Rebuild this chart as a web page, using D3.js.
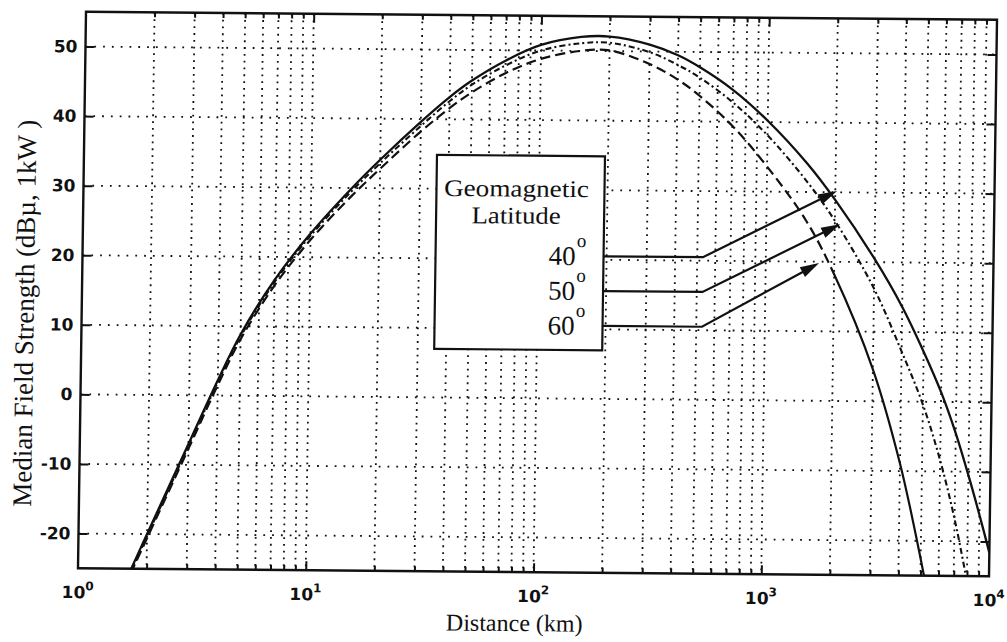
<!DOCTYPE html>
<html>
<head>
<meta charset="utf-8">
<script src="https://cdn.jsdelivr.net/npm/d3@7"></script>
<style>
  body { margin: 0; background: #fff; }
  svg { display: block; }
</style>
</head>
<body>
<svg id="chart" width="1007" height="642"></svg>
<script>
// Median sky-wave field strength (dBu, 1 kW) versus distance, three geomagnetic latitudes

// 40 deg geomagnetic latitude (solid)
const lat40Km = [1.6, 2, 3, 4, 5, 7, 10, 15, 20, 30, 40, 50, 70, 100, 150, 200, 300, 400, 500, 700, 1000, 1500, 2000, 3000, 4000, 5000, 6000, 7000, 8000, 9000, 10000];
const lat40Db = [-27.2, -20.0, -7.0, 2.2, 8.8, 16.7, 23.4, 29.9, 34.1, 39.6, 43.2, 45.6, 48.5, 50.8, 52.0, 52.1, 51.0, 49.5, 47.8, 44.6, 40.2, 34.1, 28.9, 20.5, 13.6, 7.2, 1.4, -4.5, -10.5, -16.2, -21.6];

// 50 deg geomagnetic latitude (dash-dot)
const lat50Km = [1.6, 2, 3, 4, 5, 7, 10, 15, 20, 30, 40, 50, 70, 100, 150, 200, 300, 400, 500, 700, 1000, 1500, 2000, 3000, 4000, 5000, 6000, 7000, 8000];
const lat50Db = [-27.5, -20.3, -7.3, 1.9, 8.5, 16.4, 23.1, 29.5, 33.6, 39.0, 42.6, 45.0, 47.8, 50.0, 51.1, 51.2, 49.9, 48.1, 46.3, 42.8, 38.1, 31.5, 25.9, 16.2, 7.2, -0.4, -8.4, -16.8, -25.7];

// 60 deg geomagnetic latitude (dashed, drawn solid on its steep tail)
const lat60Km = [1.6, 2, 3, 4, 5, 7, 10, 15, 20, 30, 40, 50, 70, 100, 150, 200, 300, 400, 500, 700, 1000, 1500, 2000, 3000, 4000, 5000, 5400];
const lat60Db = [-27.7, -20.6, -7.7, 1.5, 8.1, 15.9, 22.5, 28.8, 32.8, 38.2, 41.6, 43.9, 46.7, 48.8, 50.0, 50.1, 48.2, 46.0, 43.7, 39.4, 33.6, 25.8, 18.2, 4.6, -8.9, -22.6, -28.0];
const lat60SolidFromKm = 2000;

// axes
const yTickValues = [-20, -10, 0, 10, 20, 30, 40, 50];
const xDecadeExponents = ["0", "1", "2", "3", "4"];

// legend annotation: latitude labels, leader levels, bend and arrow tips
const latitudeLabels = ["40", "50", "60"];
const leaderDb = [20.5, 15.5, 10.5];
const leaderBendKm = 530;
const arrowTipKm = [2036, 2109, 1715];
const arrowTipDb = [30.2, 25.4, 19.8];

const W = 911, H = 556.5;
const svg = d3.select("#chart");

// plot group, slightly tilted on the page
const g = svg.append("g")
  .attr("transform", `matrix(1,${8 / W},${-8 / H},1,86,11.75)`);

const x = d3.scaleLog().domain([1, 1e4]).range([0, W]);
const y = d3.scaleLinear().domain([-25, 55]).range([H, 0]);

const ink = "#111";
const serif = "'Liberation Serif', 'Times New Roman', serif";
const sans = "'DejaVu Sans', 'Liberation Sans', Arial, sans-serif";

// grid values: every 1..9 x 10^n inside the frame
const xGrid = [];
for (let e = 0; e < 4; e++) {
  for (let m = 1; m < 10; m++) {
    const v = m * Math.pow(10, e);
    if (v > 1 && v < 1e4) xGrid.push(v);
  }
}
const xMajor = [10, 100, 1000];
const xMinor = xGrid.filter(v => !xMajor.includes(v));

// dotted grid
g.append("g").selectAll("line").data(xGrid).join("line")
  .attr("x1", d => x(d)).attr("x2", d => x(d))
  .attr("y1", 0).attr("y2", H)
  .attr("stroke", ink).attr("stroke-width", 1.8)
  .attr("stroke-dasharray", "1.8,5");

g.append("g").selectAll("line").data(yTickValues).join("line")
  .attr("x1", 0).attr("x2", W)
  .attr("y1", d => y(d)).attr("y2", d => y(d))
  .attr("stroke", ink).attr("stroke-width", 1.8)
  .attr("stroke-dasharray", "1.8,7");

// axes with inward ticks
const styleAxis = sel => {
  sel.select(".domain").remove();
  sel.selectAll(".tick line").attr("stroke", ink).attr("stroke-width", 2);
};

g.append("g")
  .call(d3.axisLeft(y).tickValues(yTickValues).tickSize(-9).tickPadding(8)
    .tickFormat(d => String(d)))
  .call(styleAxis)
  .call(s => s.selectAll("text")
    .attr("font-family", sans).attr("font-weight", "bold")
    .attr("font-size", 17).attr("fill", ink));

g.append("g").attr("transform", `translate(${W},0)`)
  .call(d3.axisRight(y).tickValues(yTickValues).tickSize(-9).tickFormat(""))
  .call(styleAxis);

g.append("g").attr("transform", `translate(0,${H})`)
  .call(d3.axisBottom(x).tickValues(xMajor).tickSize(-9).tickFormat(""))
  .call(styleAxis);
g.append("g").attr("transform", `translate(0,${H})`)
  .call(d3.axisBottom(x).tickValues(xMinor).tickSize(-5).tickFormat(""))
  .call(styleAxis);
g.append("g")
  .call(d3.axisTop(x).tickValues(xMajor).tickSize(-9).tickFormat(""))
  .call(styleAxis);
g.append("g")
  .call(d3.axisTop(x).tickValues(xMinor).tickSize(-5).tickFormat(""))
  .call(styleAxis);

// x tick labels 10^n
const xl = g.append("g").selectAll("text").data(xDecadeExponents).join("text")
  .attr("x", d => x(Math.pow(10, +d)))
  .attr("y", H + 30)
  .attr("text-anchor", "middle")
  .attr("font-family", sans).attr("font-weight", "bold")
  .attr("font-size", 17).attr("fill", ink);
xl.append("tspan").text("10");
xl.append("tspan").attr("dy", -8).attr("font-size", 12).text(d => d);

// frame
g.append("rect")
  .attr("x", 0).attr("y", 0).attr("width", W).attr("height", H)
  .attr("fill", "none").attr("stroke", ink).attr("stroke-width", 2.4);

// curves
g.append("clipPath").attr("id", "plotClip")
  .append("rect").attr("x", 0).attr("y", 0).attr("width", W).attr("height", H);

const line = d3.line()
  .x(d => x(d[0])).y(d => y(d[1]))
  .curve(d3.curveCatmullRom.alpha(0.5));

const curves = g.append("g").attr("clip-path", "url(#plotClip)")
  .attr("fill", "none").attr("stroke", ink);

const pts40 = lat40Km.map((k, i) => [k, lat40Db[i]]);
const pts50 = lat50Km.map((k, i) => [k, lat50Db[i]]);
const pts60 = lat60Km.map((k, i) => [k, lat60Db[i]]);

curves.append("path").attr("d", line(pts40))
  .attr("stroke-width", 2.3);
curves.append("path").attr("d", line(pts50))
  .attr("stroke-width", 2.1).attr("stroke-dasharray", "6,3,2,3");

// 60 deg: one continuous path, dashed up to the break distance, then solid
const p60 = curves.append("path").attr("d", line(pts60))
  .attr("stroke-width", 2.2);
{
  const node = p60.node();
  const total = node.getTotalLength();
  const xBreak = x(lat60SolidFromKm);
  let lo = 0, hi = total;
  for (let k = 0; k < 40; k++) {
    const mid = (lo + hi) / 2;
    if (node.getPointAtLength(mid).x < xBreak) lo = mid; else hi = mid;
  }
  const dash = 10, gap = 5;
  const parts = [];
  let acc = 0;
  while (acc + dash + gap <= lo) { parts.push(dash, gap); acc += dash + gap; }
  parts.push(total - acc + 10, 0);
  p60.attr("stroke-dasharray", parts.join(","));
}

// legend box
const box = { x: 353, y: 140, w: 168, h: 194 };
g.append("rect")
  .attr("x", box.x).attr("y", box.y).attr("width", box.w).attr("height", box.h)
  .attr("fill", "#fff").attr("stroke", ink).attr("stroke-width", 2.2);

g.append("text").attr("x", box.x + box.w / 2 - 4).attr("y", box.y + 41)
  .attr("text-anchor", "middle").attr("font-family", serif)
  .attr("font-size", 24).attr("textLength", 145).attr("lengthAdjust", "spacingAndGlyphs")
  .attr("fill", ink).text("Geomagnetic");
g.append("text").attr("x", box.x + box.w / 2 - 4).attr("y", box.y + 68)
  .attr("text-anchor", "middle").attr("font-family", serif)
  .attr("font-size", 24).attr("textLength", 89).attr("lengthAdjust", "spacingAndGlyphs")
  .attr("fill", ink).text("Latitude");

const lab = g.append("g").selectAll("text").data(latitudeLabels).join("text")
  .attr("x", box.x + 113)
  .attr("y", (d, i) => y(leaderDb[i]) + 9)
  .attr("font-family", serif).attr("font-size", 27).attr("fill", ink);
lab.append("tspan").text(d => d);
lab.append("tspan").attr("dx", 1).attr("dy", -18).attr("font-size", 19).text("o");

// leaders and arrows
const arrows = g.append("g");
leaderDb.forEach((db, i) => {
  const y0 = y(db);
  const bx = x(leaderBendKm);
  const tx = x(arrowTipKm[i]), ty = y(arrowTipDb[i]);
  const ang = Math.atan2(ty - y0, tx - bx);
  const len = 19, half = 5.5;
  const baseX = tx - len * Math.cos(ang), baseY = ty - len * Math.sin(ang);
  arrows.append("path")
    .attr("d", `M${box.x + box.w},${y0}L${bx},${y0}L${baseX + 2 * Math.cos(ang)},${baseY + 2 * Math.sin(ang)}`)
    .attr("fill", "none").attr("stroke", ink).attr("stroke-width", 2.2);
  arrows.append("path")
    .attr("d", `M${tx},${ty}L${baseX - half * Math.sin(ang)},${baseY + half * Math.cos(ang)}L${baseX + half * Math.sin(ang)},${baseY - half * Math.cos(ang)}Z`)
    .attr("fill", ink);
});

// axis titles
g.append("text")
  .attr("transform", `translate(-48,302) rotate(-90)`)
  .attr("text-anchor", "middle").attr("font-family", serif)
  .attr("font-size", 27).attr("fill", ink)
  .text("Median Field Strength (dBµ, 1kW )");

g.append("text")
  .attr("x", 437).attr("y", H + 59)
  .attr("text-anchor", "middle").attr("font-family", serif)
  .attr("font-size", 24).attr("fill", ink)
  .text("Distance (km)");
</script>
</body>
</html>
